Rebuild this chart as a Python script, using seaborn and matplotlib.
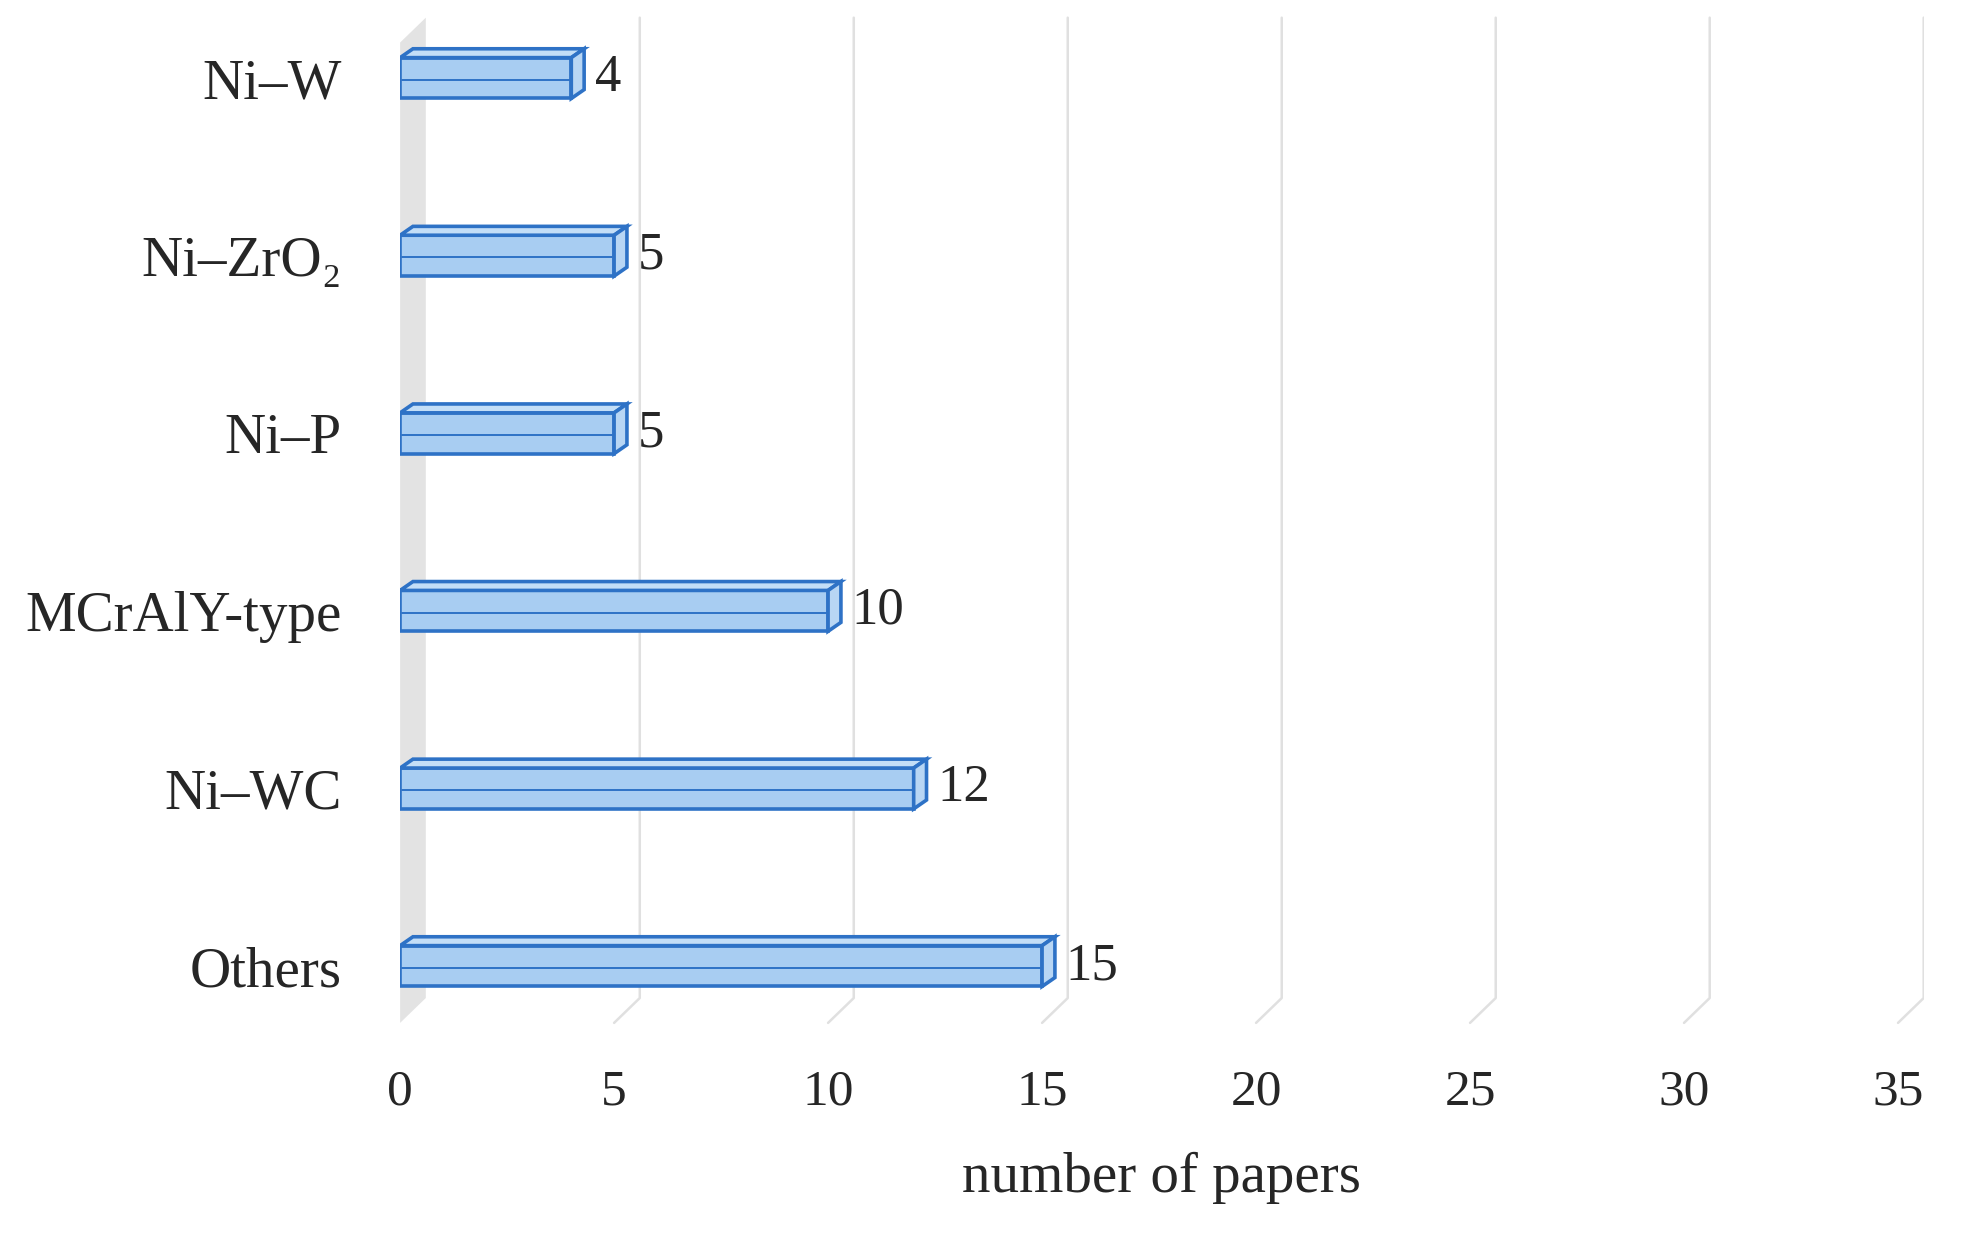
import pandas as pd
import matplotlib.pyplot as plt
import seaborn as sns
from matplotlib.patches import Polygon

# Data
categories = ['Ni\u2013W', 'Ni\u2013ZrO\u2082', 'Ni\u2013P', 'MCrAlY-type', 'Ni\u2013WC', 'Others']
papers = [4, 5, 5, 10, 12, 15]
xticks = [0, 5, 10, 15, 20, 25, 30, 35]

df = pd.DataFrame({'coating': categories, 'papers': papers})

sns.set_style('white')
plt.rcParams['font.family'] = ['Liberation Serif', 'DejaVu Serif']

fig = plt.figure(figsize=(19.71, 12.35), dpi=100)
ax = fig.add_axes([0.203, 0.166, 0.773, 0.824])

face = '#a8cdf2'
edge = '#2e72c6'
bar_h = 0.23
dx, dy = 0.3, -0.05       # depth offset of the bars
wx, wy = 0.6, -0.14       # depth offset of the back wall
y_top, y_floor = -0.2, 5.32

# back wall and grid
ax.add_patch(Polygon([(0, y_top), (wx, y_top + wy), (wx, y_floor + wy), (0, y_floor)],
                     closed=True, facecolor='#e3e3e3', edgecolor='none', zorder=0))
for t in xticks[1:]:
    ax.plot([t + wx, t + wx, t], [y_top + wy, y_floor + wy, y_floor],
            color='#e0e0e0', lw=1.8, zorder=0)

sns.barplot(data=df, x='papers', y='coating', orient='h', width=bar_h,
            color=face, edgecolor=edge, linewidth=2.6, saturation=1, ax=ax, zorder=3)

for i, v in enumerate(papers):
    y0, y1 = i - bar_h / 2, i + bar_h / 2
    top = [(0, y0), (dx, y0 + dy), (v + dx, y0 + dy), (v, y0)]
    side = [(v, y0), (v + dx, y0 + dy), (v + dx, y1 + dy), (v, y1)]
    ax.add_patch(Polygon(top, closed=True, facecolor='#c3def7', edgecolor=edge, lw=2.6, zorder=4))
    ax.add_patch(Polygon(side, closed=True, facecolor='#b8d6f4', edgecolor=edge, lw=2.6, zorder=4))
    ax.plot([0.04, v - 0.04], [i + 0.01, i + 0.01], color=edge, lw=1.4, zorder=5)
    ax.text(v + 0.55, i, str(v), va='center', ha='left', fontsize=38)

ax.set_xlim(0, 35.6)
ax.set_ylim(5.36, -0.37)
ax.set_xticks(xticks)
ax.set_xticklabels([str(t) for t in xticks], fontsize=37)
ax.tick_params(axis='y', labelsize=41, length=0, pad=42)
ax.tick_params(axis='x', length=0, pad=28)
ax.set_ylabel('')
ax.set_xlabel('number of papers', fontsize=41, labelpad=26)
for s in ax.spines.values():
    s.set_visible(False)

fig.savefig('out.png', dpi=100)
